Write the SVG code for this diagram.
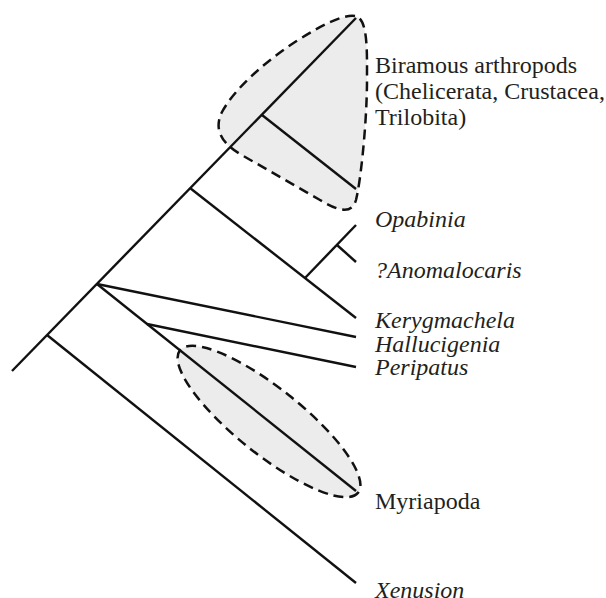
<svg xmlns="http://www.w3.org/2000/svg" width="606" height="598" viewBox="0 0 606 598">
<style>
.blob{fill:#ececec;stroke:#111;stroke-width:2.5;stroke-dasharray:10 6}
.br{stroke:#111;stroke-width:2.4;fill:none;stroke-linecap:butt}
text{font-family:"Liberation Serif","Times New Roman",serif;font-size:24px;fill:#231f20}
.it{font-style:italic}
</style>
<rect width="606" height="598" fill="#fff"/>
<g id="clade-biramous">
<path class="blob" d="M355,16 C343,14 320,26 295,42 C265,62 235,88 222,112 C214,128 220,142 240,154 L320,200 C340,212 352,214 356,200 C361,180 367,120 367,80 C367,50 368,18 355,16 Z"/>
</g>
<g id="clade-myriapoda">
<ellipse class="blob" cx="269" cy="421.5" rx="114" ry="33" transform="rotate(38.6 269 421.5)"/>
</g>
<g id="connectors">
<line class="br" x1="12" y1="371" x2="356" y2="18"/>
<line class="br" x1="47" y1="335" x2="356" y2="583"/>
<line class="br" x1="97" y1="284" x2="356" y2="337"/>
<line class="br" x1="97" y1="284" x2="356" y2="491"/>
<line class="br" x1="147" y1="324" x2="356" y2="367"/>
<line class="br" x1="190" y1="188" x2="356" y2="318"/>
<line class="br" x1="305" y1="278" x2="356" y2="225"/>
<line class="br" x1="337" y1="245" x2="356" y2="262"/>
<line class="br" x1="262" y1="115" x2="356" y2="189"/>
</g>
<g id="label-biramous">
<text x="375" y="73">Biramous arthropods</text>
<text x="375" y="99">(Chelicerata, Crustacea,</text>
<text x="375" y="125">Trilobita)</text>
</g>
<g id="label-opabinia"><text class="it" x="375" y="227">Opabinia</text></g>
<g id="label-anomalocaris"><text class="it" x="375" y="278">?Anomalocaris</text></g>
<g id="label-kerygmachela"><text class="it" x="375" y="328">Kerygmachela</text></g>
<g id="label-hallucigenia"><text class="it" x="375" y="352">Hallucigenia</text></g>
<g id="label-peripatus"><text class="it" x="375" y="375">Peripatus</text></g>
<g id="label-myriapoda"><text x="375" y="509">Myriapoda</text></g>
<g id="label-xenusion"><text class="it" x="375" y="598">Xenusion</text></g>
</svg>
